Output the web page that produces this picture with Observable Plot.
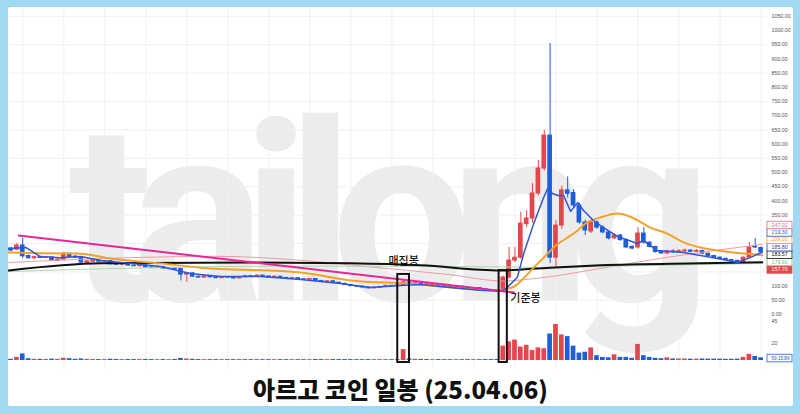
<!DOCTYPE html>
<html><head><meta charset="utf-8">
<script src="https://cdn.jsdelivr.net/npm/d3@7"></script>
<script src="https://cdn.jsdelivr.net/npm/@observablehq/plot@0.6"></script>
<style>
html,body{margin:0;padding:0;width:800px;height:414px;background:#a2d9f2;overflow:hidden;}
#card{position:absolute;left:8px;top:7px;width:785px;height:399px;background:#fff;border-radius:2px;overflow:hidden;}
#chart{position:absolute;left:0;top:0;}
#title{position:absolute;left:0;top:362px;width:785px;height:37px;line-height:40px;text-align:center;font-family:"Noto Sans CJK KR";font-weight:900;font-size:24px;color:#111;}
</style></head><body>
<div id="card"><div id="chart"></div><div id="title">아르고 코인 일봉 (25.04.06)</div></div>
<script>
// ---- data (daily candles) ----
const open = [232,228,243,206,198,202,199,201,189,193,214,204,200,182,186,190,186,188,177,175,178,172,170,173,166,164,167,162,163,160,140,145,133,130,134,131,128,132,130,127,131,135,133,137,134,131,133,129,126,128,124,122,125,118,115,117,112,108,104,100,98,95,92,94,97,101,100,101,113,108,110,106,104,106,101,99,96,98,94,91,93,89,86,84,79,130,190,200,318,338,426,514,630,200,313,437,428,384,324,292,324,306,289,268,278,262,238,236,285,253,238,220,215,222,219,222,225,221,224,214,206,200,196,192,189,185,200,240,234];
const high = [236,250,268,210,205,204,204,203,196,218,216,207,202,189,192,192,190,189,180,181,179,174,176,174,168,169,168,166,164,162,147,146,136,136,135,133,134,133,131,133,138,137,140,138,135,136,134,130,131,129,126,127,126,120,119,118,113,110,106,102,99,96,96,99,103,102,105,118,114,112,111,107,108,107,102,100,100,99,95,95,94,90,88,85,135,236,236,360,366,461,542,648,954,330,452,485,440,392,332,332,330,312,294,284,282,266,242,306,306,256,240,223,226,228,228,230,228,228,226,216,208,203,198,194,191,203,253,268,238];
const low = [220,225,197,196,195,197,197,188,186,191,200,198,180,180,184,184,184,175,173,173,170,168,168,164,162,162,160,160,157,118,113,131,128,128,129,126,127,128,125,126,130,131,132,132,129,130,127,124,125,122,120,121,116,113,114,110,106,102,98,96,93,90,91,93,96,98,99,99,106,107,104,102,103,99,97,94,95,92,89,90,87,84,82,78,76,126,182,195,305,322,418,505,180,165,300,410,375,318,278,285,300,284,262,264,258,232,228,230,248,234,216,212,212,215,216,219,218,218,210,203,197,193,189,186,182,183,198,232,215];
const close = [225,243,205,198,202,199,201,190,193,214,203,200,183,187,190,186,188,177,175,178,172,170,173,166,164,167,162,163,160,140,145,133,130,134,131,128,132,130,127,131,135,133,137,134,131,133,129,126,128,124,122,125,118,115,117,112,108,104,100,98,95,92,94,97,101,100,103,113,108,110,106,104,106,101,99,96,98,94,91,93,89,86,84,80,130,190,200,320,338,426,514,630,200,313,437,425,384,324,296,324,306,289,268,278,262,236,232,285,253,238,220,215,222,219,223,225,221,224,214,206,200,196,192,189,185,200,236,236,219.3];
const volume = [0.8,3,7,1.5,0.8,0.7,0.6,1.0,0.8,2.0,1.5,0.8,1.2,0.7,0.6,0.5,0.5,0.9,0.6,0.5,0.6,0.5,0.5,0.6,0.5,0.4,0.5,0.4,0.6,1.8,1.2,0.8,0.5,0.4,0.4,0.4,0.4,0.4,0.4,0.5,0.6,0.4,0.5,0.4,0.4,0.4,0.4,0.4,0.4,0.4,0.4,0.4,0.6,0.5,0.4,0.5,0.5,0.5,0.5,0.4,0.4,0.5,0.4,0.4,0.5,0.4,0.5,12,1.2,0.8,0.6,0.5,0.4,0.5,0.4,0.4,0.4,0.4,0.4,0.4,0.4,0.5,0.5,0.6,16,21,23,15,17,11,14,13,30,41,29,27,16,8,9,14,5,3,2.5,6,3,3,2,18,5,3,2,1.5,2.5,1.2,1.2,1.2,1,1,1.2,1,1,0.9,0.8,0.8,1,3,6.5,4,2.5];

// moving averages / overlays read as [candle index, price]
const ma5 = [[-0.6,232],[2.5,236],[5,204],[8.4,200],[11.9,204],[15.3,190],[20.4,180],[25.5,169],[30.6,144],[35.8,134],[42.6,134],[49.4,123],[56.2,109],[61.3,95],[66.5,102],[69.9,106],[75,95],[80,85],[83.5,82],[84.5,92],[86.4,130],[87.5,215],[89.2,320],[90.9,412],[91.6,444],[92.4,426],[93.3,419],[94.3,419],[95.5,363],[96.7,394],[97.7,366],[99.4,331],[101.1,306],[103.5,275],[106.9,250],[107.9,261],[110.3,225],[114.8,218],[120.6,197],[124,183],[126.2,201],[128.2,219.3]];
const ma20 = [[-0.6,218],[9.6,215],[11.3,215],[17,197],[25.5,180],[32.3,165],[49.4,148],[57.9,120],[67.7,109],[83,85],[84,88],[86,100],[87.5,128],[89.2,165],[90.9,200],[93.3,248],[95,271],[96.7,296],[98,320],[100.6,342],[103.5,356],[105.7,344],[107.4,326],[109.1,306],[112,285],[114.8,254],[117.7,236],[120.6,225],[123.3,218],[126.2,213],[128.2,209]];
const ma60 = [[-0.4,183],[20,200],[35,205],[50,190],[60,170],[75,140],[84,118],[90,128],[100,160],[110,195],[120,225],[128.2,247.02]];
const ma120 = [[-0.4,151],[10,158],[25,165],[45,170],[70,170],[90,166],[110,173],[128.2,179.6]];
const ma200 = [[-0.4,155],[15.3,180],[40.9,183],[57.9,180],[69.9,173],[83.5,155],[92,165],[100.6,173],[117.7,180],[128.2,183.57]];
const trendLine = [[1.3,278],[85.8,78]];

const marks = [{i:67, top:141, half:1.0, label:"매집봉", lp:186, anchor:"middle"},
               {i:84, top:155, half:0.7, label:"기준봉", lp:56, anchor:"start"}];

const priceTicks = [1050,1000,950,900,850,800,750,700,650,600,550,500,450,400,350,100,50,0];
const gridPrices = [50,150,250,350,450,550,650,750,850,950,1050];
const volTicks = [45,20];
const volLabel = "59.153M";
const priceLabels = [
  {v:247.02, color:"#e8677f", fill:false},
  {v:219.30, color:"#2e5fd6", fill:false},
  {v:209.00, color:"#f2a12a", fill:false},
  {v:185.80, color:"#1f3f9c", fill:false},
  {v:183.57, color:"#111111", fill:false},
  {v:179.60, color:"#6fc06f", fill:false},
  {v:157.70, color:"#e2474d", fill:true}
];

// ---- layout of the shared y axis (price pane on top, volume pane below) ----
const W = 785, H = 362, MR = 26;
const yDomain = [-193.7, 1081];
const volBase = -162, volUnit = 3.05;
const volY = v => volBase + v * volUnit;
const UP = "#e2474d", DOWN = "#1e5fd8";

const N = close.length;
const candles = d3.range(N).map(i => ({i, o: open[i], h: high[i], l: low[i], c: close[i], v: volume[i], col: close[i] >= open[i] ? UP : DOWN}));
const gridIdx = d3.range(2, N, 7);
const pt = a => a.map(([i, p]) => ({i, p}));

// stacked right-side price labels (push upward to avoid overlap)
const ys = d3.scaleLinear(yDomain, [H, 0]);
const sorted = priceLabels.slice().sort((a, b) => a.v - b.v);
let prev = Infinity;
sorted.forEach(d => { let py = Math.min(ys(d.v), prev - 7.4); d.py = ys.invert(py); prev = py; });

const fmt = d3.format(".2f");
const FS = 5.3;
const txt = {fontFamily: "Liberation Sans", fontSize: FS};
const BW = 0.4;

const plot = Plot.plot({
  width: W, height: H,
  marginLeft: 0, marginRight: MR, marginTop: 0, marginBottom: 0,
  x: {domain: [-0.43, 129.1], axis: null},
  y: {domain: yDomain, axis: null},
  color: {type: "identity"},
  style: {background: "transparent", overflow: "visible"},
  marks: [
    Plot.text(["tailong"], {text: d => d, frameAnchor: "middle", fontSize: 250, fontWeight: 700, fontFamily: "Roboto", fill: "#ececec", dy: 32, dx: -9}),
    Plot.ruleX(gridIdx, {x: d => d, stroke: "#f0f0f0"}),
    Plot.ruleY(gridPrices, {y: d => d, stroke: "#f0f0f0"}),
    Plot.ruleX(candles, {x: "i", y1: "l", y2: "h", stroke: "col", strokeWidth: 1}),
    Plot.rect(candles, {x1: d => d.i - BW, x2: d => d.i + BW, y1: "o", y2: "c", fill: "col", insetTop: -0.5, insetBottom: -0.5}),
    Plot.rect(candles, {x1: d => d.i - BW, x2: d => d.i + BW, y1: () => volY(0), y2: d => volY(d.v), fill: "col", insetTop: -0.5}),
    Plot.line(pt(ma60), {x: "i", y: "p", stroke: "#f19aa6", strokeWidth: 1, curve: "monotone-x"}),
    Plot.line(pt(ma120), {x: "i", y: "p", stroke: "#a8dca8", strokeWidth: 1, curve: "monotone-x"}),
    Plot.line(pt(ma200), {x: "i", y: "p", stroke: "#111", strokeWidth: 2, curve: "monotone-x"}),
    Plot.line(pt(ma20), {x: "i", y: "p", stroke: "#f4a12a", strokeWidth: 2, curve: "monotone-x"}),
    Plot.line(pt(ma5), {x: "i", y: "p", stroke: "#2d56d9", strokeWidth: 1.5}),
    Plot.line(pt(trendLine), {x: "i", y: "p", stroke: "#e8269a", strokeWidth: 2}),
    Plot.rect(marks, {x1: d => d.i - d.half, x2: d => d.i + d.half, y1: "top", y2: () => volY(-2.3), fill: "none", stroke: "#111", strokeWidth: 2}),
    Plot.text(marks.filter(d => d.anchor === "middle"), {x: "i", y: "lp", text: "label", fontSize: 11, fontWeight: 500, fontFamily: "Noto Sans CJK KR", fill: "#111"}),
    Plot.text(marks.filter(d => d.anchor === "start"), {x: d => d.i + d.half, y: "lp", text: "label", textAnchor: "start", dx: 3, fontSize: 11, fontWeight: 500, fontFamily: "Noto Sans CJK KR", fill: "#111"}),
    Plot.text(priceTicks, {y: d => d, text: d => fmt(d), frameAnchor: "right", textAnchor: "start", dx: 4, fill: "#555", ...txt}),
    Plot.text(volTicks, {y: d => volY(d), text: d => String(d), frameAnchor: "right", textAnchor: "start", dx: 4, fill: "#555", ...txt}),
    Plot.text(sorted, {y: "py", text: d => fmt(d.v), frameAnchor: "right", textAnchor: "start", dx: 4, fill: d => d.fill ? "#fff" : d.color, ...txt}),
    Plot.text([volLabel], {y: () => volY(volume[N - 1]), text: d => d, frameAnchor: "right", textAnchor: "start", dx: 4, fill: "#2e5fd6", ...txt})
  ]
});
document.getElementById("chart").appendChild(plot);

const svg = d3.select(plot);
const byText = s => svg.selectAll("text").filter(function() { return this.textContent === s; });

// watermark letter spacing
byText("tailong").style("letter-spacing", "-22px");

// boxes behind the right-side value labels
const sb = plot.getBoundingClientRect();
const labelStyles = sorted.map(d => ({t: fmt(d.v), color: d.color, fill: d.fill, size: FS})).concat([{t: volLabel, color: "#2e5fd6", fill: false, size: 4.7}]);
labelStyles.forEach(s => {
  byText(s.t).each(function() {
    if (this.getAttribute("fill") === "#555") return;
    const b = this.getBoundingClientRect();
    const r = svg.append("rect").attr("x", b.left - sb.left - 4.5).attr("y", b.top - sb.top - 0.8)
      .attr("width", 25).attr("height", b.height + 1.6)
      .attr("fill", s.fill ? s.color : "#fff").attr("stroke", s.color).attr("stroke-width", 0.8);
    const t = this.cloneNode(true);
    svg.node().appendChild(t);
    t.setAttribute("transform", "");
    t.setAttribute("x", b.left - sb.left);
    t.setAttribute("y", b.top - sb.top + b.height * 0.78);
    t.setAttribute("text-anchor", "start");
    t.setAttribute("fill", s.fill ? "#fff" : s.color);
    t.setAttribute("font-family", "Liberation Sans");
    t.setAttribute("font-size", s.size);
    this.setAttribute("visibility", "hidden");
  });
});
</script></body></html>
